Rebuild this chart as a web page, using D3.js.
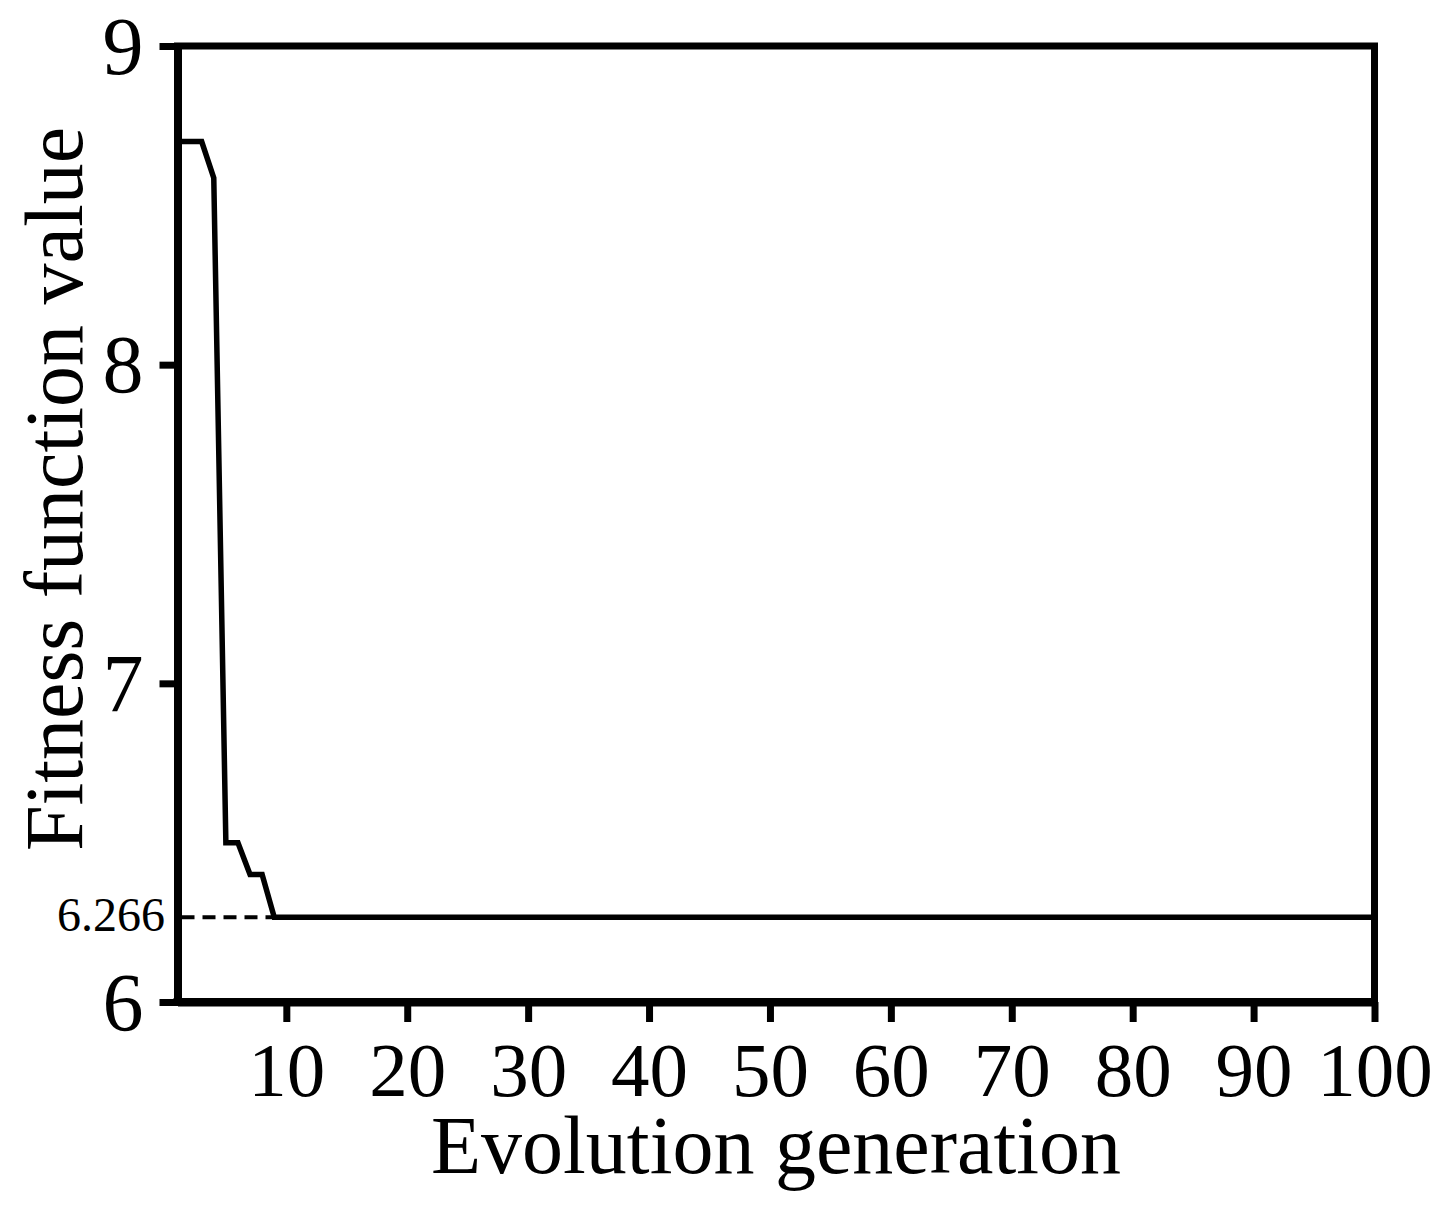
<!DOCTYPE html>
<html>
<head>
<meta charset="utf-8">
<script src="https://cdn.jsdelivr.net/npm/d3@7"></script>
<style>
  html, body { margin: 0; padding: 0; background: #fff; }
  svg { display: block; }
  text { font-family: "Liberation Serif", "Times New Roman", serif; fill: #000; }
</style>
</head>
<body>
<svg id="chart" width="1446" height="1211"></svg>
<script>
// Data (breakpoints of the best-fitness curve; flat between listed generations)
const generations = [1, 3, 4, 5, 6, 7, 8, 9, 100];
const fitness = [8.70, 8.70, 8.586, 6.50, 6.50, 6.40, 6.40, 6.266, 6.266];
const xTicks = [10, 20, 30, 40, 50, 60, 70, 80, 90, 100];
const yTicks = [6, 7, 8, 9];
const optimumValue = 6.266;
const optimumLabel = "6.266";
const optimumGeneration = 9;
const xTitle = "Evolution generation";
const yTitle = "Fitness function value";

(function () {
const svg = d3.select("#chart");
const mLeft = 177.5, mRight = 1374.5, mTop = 46, mBottom = 1002;

const x = d3.scaleLinear().domain([1, 100]).range([mLeft, mRight]);
const y = d3.scaleLinear().domain([6, 9]).range([mBottom, mTop]);

// Frame (top and right)
svg.append("path")
  .attr("d", `M${mLeft},${mTop}H${mRight}V${mBottom}`)
  .attr("fill", "none").attr("stroke", "#000").attr("stroke-width", 7)
  .attr("stroke-linecap", "square");

// Y axis
const yAxis = svg.append("g").attr("transform", `translate(${mLeft},0)`)
  .call(d3.axisLeft(y).tickValues(yTicks).tickFormat(d3.format("d")).tickSize(18).tickSizeOuter(0).tickPadding(16));
yAxis.select(".domain").attr("stroke", "#000").attr("stroke-width", 8);
yAxis.selectAll(".tick line").attr("stroke", "#000").attr("stroke-width", 7);
yAxis.selectAll(".tick text").attr("font-size", 82).attr("dy", "0.33em")
  .style("font-family", "'Liberation Serif', serif");

// X axis
const xAxis = svg.append("g").attr("transform", `translate(0,${mBottom})`)
  .call(d3.axisBottom(x).tickValues(xTicks).tickFormat(d3.format("d")).tickSize(20).tickSizeOuter(0).tickPadding(19));
xAxis.select(".domain").attr("stroke", "#000").attr("stroke-width", 8);
xAxis.selectAll(".tick line").attr("stroke", "#000").attr("stroke-width", 7);
xAxis.selectAll(".tick text").attr("font-size", 77)
  .style("font-family", "'Liberation Serif', serif");

// Extend x-axis line to the left corner
svg.append("line").attr("x1", mLeft - 4).attr("x2", mRight)
  .attr("y1", mBottom).attr("y2", mBottom)
  .attr("stroke", "#000").attr("stroke-width", 8);

// Dashed optimum reference line
svg.append("line")
  .attr("x1", mLeft + 4).attr("x2", x(optimumGeneration))
  .attr("y1", y(optimumValue)).attr("y2", y(optimumValue))
  .attr("stroke", "#000").attr("stroke-width", 4).attr("stroke-dasharray", "13,8");

svg.append("text")
  .attr("x", 165).attr("y", y(optimumValue) - 2)
  .attr("dy", "0.33em").attr("text-anchor", "end").attr("font-size", 48)
  .text(optimumLabel);

// Curve
const pts = generations.map((g, i) => [g, fitness[i]]);
svg.append("path")
  .datum(pts)
  .attr("d", d3.line().x(d => x(d[0])).y(d => y(d[1])))
  .attr("fill", "none").attr("stroke", "#000").attr("stroke-width", 5.5)
  .attr("stroke-linejoin", "miter");

// Titles
svg.append("text")
  .attr("x", (mLeft + mRight) / 2).attr("y", 1173)
  .attr("text-anchor", "middle").attr("font-size", 82)
  .text(xTitle);

svg.append("text")
  .attr("transform", `translate(82,489) rotate(-90)`)
  .attr("text-anchor", "middle").attr("font-size", 82)
  .text(yTitle);
})();
</script>
</body>
</html>
